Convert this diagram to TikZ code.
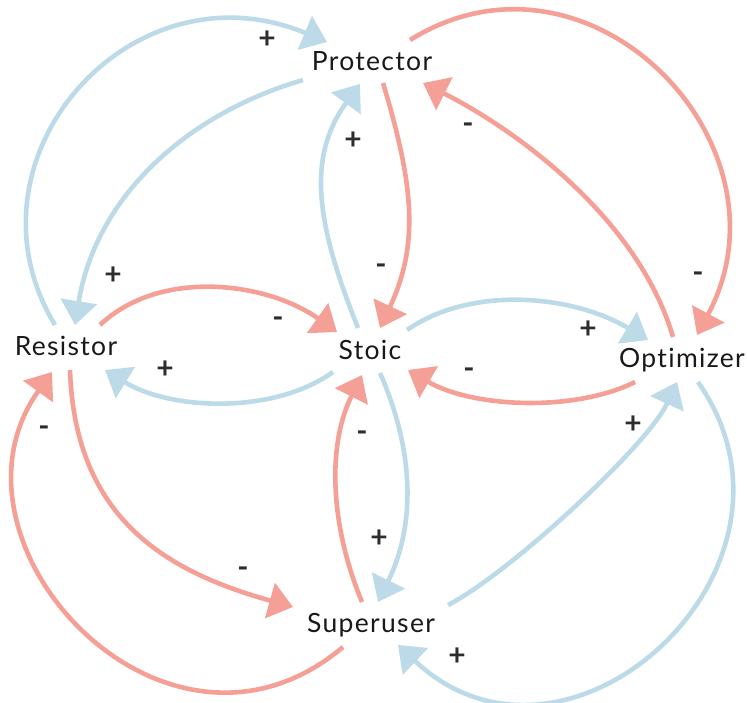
\documentclass[tikz,border=0pt]{standalone}
\usepackage{fontspec}
\setmainfont{Lato}[LetterSpace=5, Ligatures=NoCommon]
\newfontfamily\signfont{Lato}
\usetikzlibrary{arrows.meta}
\definecolor{posblue}{RGB}{188,218,232}
\definecolor{negred}{RGB}{244,160,150}
\definecolor{signgray}{RGB}{45,45,45}

\begin{document}
\begin{tikzpicture}[x=1pt, y=-1pt, font=\fontsize{26.5}{30}\selectfont]
\tikzstyle{roleStyle} = [anchor=base, inner sep=0pt, text=black!90]
\tikzstyle{signStyle} = [inner sep=0pt, text=signgray, font=\signfont\fontsize{30}{32}\selectfont\bfseries]
\tikzstyle{linkStyle} = [line width=4.6pt, -{Triangle[length=24pt, width=36pt]}]
\tikzstyle{plusStyle} = [linkStyle, color=posblue]
\tikzstyle{minusStyle} = [linkStyle, color=negred]
\useasboundingbox (0,0) rectangle (747,702);
\node[roleStyle] (Protector) at (372,70) {Protector};
\node[roleStyle] (Resistor) at (66,355) {Resistor};
\node[roleStyle] (Stoic) at (370,359) {Stoic};
\node[roleStyle] (Optimizer) at (682,367) {Optimizer};
\node[roleStyle] (Superuser) at (371,632) {Superuser};
\draw[plusStyle] ([shift={(-11,-30)}]Resistor.base) .. controls +(-100,-165) and +(-197,-82) .. ([shift={(-45,-28)}]Protector.base);
\draw[plusStyle] ([shift={(-69,10)}]Protector.base) .. controls +(-120,35) and +(20,-125) .. ([shift={(9,-30)}]Resistor.base);
\draw[plusStyle] ([shift={(-12,-31)}]Stoic.base) .. controls +(-40,-100) and +(-55,75) .. ([shift={(-12,14)}]Protector.base);
\draw[minusStyle] ([shift={(11,13)}]Protector.base) .. controls +(30,100) and +(40,-85) .. ([shift={(10,-31)}]Stoic.base);
\draw[minusStyle] ([shift={(-9,-30)}]Optimizer.base) .. controls +(-35,-120) and +(90,45) .. ([shift={(51,13)}]Protector.base);
\draw[minusStyle] ([shift={(38,-30)}]Protector.base) .. controls +(180,-112) and +(102,-190) .. ([shift={(15,-32)}]Optimizer.base);
\draw[minusStyle] ([shift={(34,-30)}]Resistor.base) .. controls +(60,-57) and +(-70,-50) .. ([shift={(-33,-27)}]Stoic.base);
\draw[plusStyle] ([shift={(-37,13)}]Stoic.base) .. controls +(-60,43) and +(65,40) .. ([shift={(39,15)}]Resistor.base);
\draw[plusStyle] ([shift={(37,-29)}]Stoic.base) .. controls +(65,-45) and +(-75,-45) .. ([shift={(-34,-27)}]Optimizer.base);
\draw[minusStyle] ([shift={(-47,15)}]Optimizer.base) .. controls +(-60,30) and +(65,38) .. ([shift={(38,11)}]Stoic.base);
\draw[minusStyle] ([shift={(-9,-30)}]Superuser.base) .. controls +(-32,-77) and +(-35,70) .. ([shift={(-8,16)}]Stoic.base);
\draw[plusStyle] ([shift={(10,14)}]Stoic.base) .. controls +(33,75) and +(39,-80) .. ([shift={(7,-30)}]Superuser.base);
\draw[minusStyle] ([shift={(4,15)}]Resistor.base) .. controls +(5,150) and +(-125,-35) .. ([shift={(-78,-25)}]Superuser.base);
\draw[minusStyle] ([shift={(-28,15)}]Superuser.base) .. controls +(-178,150) and +(-122,170) .. ([shift={(-14,17)}]Resistor.base);
\draw[plusStyle] ([shift={(77,-27)}]Superuser.base) .. controls +(62,-32) and +(-29,63) .. ([shift={(-5,15)}]Optimizer.base);
\draw[plusStyle] ([shift={(16,15)}]Optimizer.base) .. controls +(130,185) and +(170,160) .. ([shift={(27,13)}]Superuser.base);
\node[signStyle] (signRP) at (267,40) {+};
\node[signStyle] (signPR) at (113,276) {+};
\node[signStyle] (signSP) at (353,141) {+};
\node[signStyle] (signPS) at (381,269) {-};
\node[signStyle] (signOP) at (468,128) {-};
\node[signStyle] (signPO) at (698,277) {-};
\node[signStyle] (signRS) at (278,322) {-};
\node[signStyle] (signSR) at (165,370) {+};
\node[signStyle] (signSO) at (588,330) {+};
\node[signStyle] (signOS) at (469,373) {-};
\node[signStyle] (signUS) at (362,436) {-};
\node[signStyle] (signSU) at (379,539) {+};
\node[signStyle] (signRU) at (243,572) {-};
\node[signStyle] (signUR) at (44,431) {-};
\node[signStyle] (signUO) at (633,425) {+};
\node[signStyle] (signOU) at (457,657) {+};
\end{tikzpicture}
\end{document}
